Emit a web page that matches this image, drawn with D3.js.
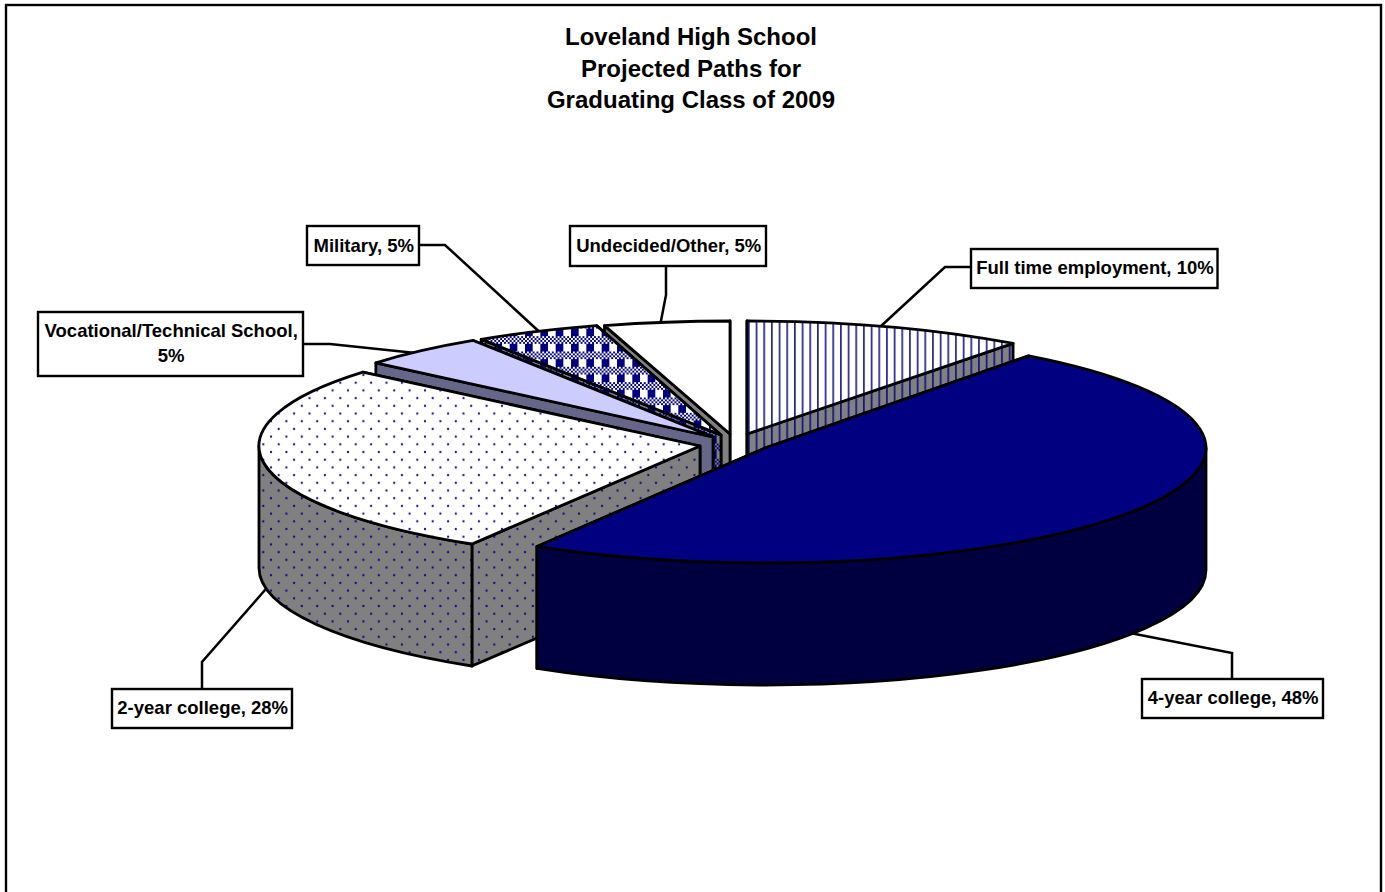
<!DOCTYPE html>
<html><head><meta charset="utf-8">
<style>html,body{margin:0;padding:0;background:#fff;overflow:hidden}svg{display:block}text{font-family:"Liberation Sans",Arial,sans-serif;font-weight:bold;fill:#000}</style>
<script src="https://cdn.jsdelivr.net/npm/d3@7"></script>
</head><body><svg id="c" width="1385" height="892"></svg>
<script>
// ---- data (clockwise from 12 o'clock)
const categories = ["Full time employment","4-year college","2-year college","Vocational/Technical School","Military","Undecided/Other"];
const shares = [10.2, 48.45, 27.5, 4.7, 4.6, 4.55];
const titleLines = ["Loveland High School","Projected Paths for","Graduating Class of 2009"];

// ---- layout: exploded slice centres and ellipse radii
const sliceCx = [747, 765, 700, 713, 721, 730];
const sliceCy = [434, 448, 446, 437, 435, 434];
const sliceRx = [445, 441, 441, 441, 441, 445];
const sliceRy = [113, 115, 114.5, 115, 114, 113];
const depth = 122;
const drawOrder = [5,4,3,0,2,1];
const frontEdgeIsEnd = [true,false,false,false,false,false]; // radial wall painted last
const boxes = [[971,249,1217.5,288],[1142,679,1323,718],[112,689,292,728],[38,312,303,376],[307,226,419,265],[570,226,766,266]];
const labelDy = [5.5,5.5,5.5,5.5,6,6];
const leaders = [
  [[971,267],[945,267],[880,327]],
  [[1232,679],[1232,653],[1125,632]],
  [[202,689],[202,662],[272,582]],
  [[303,344],[330,344],[425,354]],
  [[419,245],[445,245],[545,337]],
  [[666,266],[666,295],[660,326]]
];
const topFill = ["url(#stripeTop)","#000080","url(#dotTop)","#CCCCFF","url(#checkTop)","#ffffff"];
const wallFill = ["url(#stripeWall)","#000040","url(#dotWall)","#666688","url(#checkWall)","#808080"];

const svg = d3.select("#c");
const defs = svg.append("defs");
function stripe(id,bg){
  const p=defs.append("pattern").attr("id",id).attr("patternUnits","userSpaceOnUse").attr("width",7.67).attr("height",20).attr("patternTransform","translate(748,0)");
  p.append("rect").attr("width",7.67).attr("height",20).attr("fill",bg);
  p.append("rect").attr("x",0).attr("width",1.7).attr("height",20).attr("fill","#000080").attr("fill-opacity",0.85);
}
function dots(id,bg){
  const s=15.4;
  const p=defs.append("pattern").attr("id",id).attr("patternUnits","userSpaceOnUse").attr("width",s).attr("height",s).attr("patternTransform","translate(263.3,444.3)");
  p.append("rect").attr("width",s).attr("height",s).attr("fill",bg);
  [[0,0],[s,0],[0,s],[s,s],[s/2,s/2]].forEach(d=>p.append("circle").attr("cx",d[0]).attr("cy",d[1]).attr("r",1.15).attr("fill","#000080").attr("fill-opacity",0.9));
}
function check(id,bg){
  const s=15.33;
  const p=defs.append("pattern").attr("id",id).attr("patternUnits","userSpaceOnUse").attr("width",s).attr("height",s).attr("patternTransform","translate(571,328.5)");
  p.append("rect").attr("width",s).attr("height",s).attr("fill",bg);
  p.append("rect").attr("width",s/2).attr("height",s/2).attr("fill","#000080");
  d3.range(4).forEach(r=>d3.range(8).forEach(c=>{
    if((r+c)%2===0) p.append("rect").attr("x",c*s/8).attr("y",s/2+r*s/8).attr("width",s/8).attr("height",s/8).attr("fill","#000080");
  }));
}
stripe("stripeTop","#fff");stripe("stripeWall","#808080");
dots("dotTop","#fff");dots("dotWall","#808080");
check("checkTop","#fff");check("checkWall","#808080");

// frame
svg.append("rect").attr("x",6).attr("y",5).attr("width",1375).attr("height",900).attr("fill","#fff").attr("stroke","#000").attr("stroke-width",2.4);

// title
svg.append("g").selectAll("text").data(titleLines).join("text")
  .attr("x",691).attr("y",(d,i)=>45+i*31.5).attr("text-anchor","middle").attr("font-size",24).text(d=>d);

// leaders sit under the pie
const line=d3.line();
svg.append("g").selectAll("path").data(leaders).join("path").attr("d",d=>line(d)).attr("fill","none").attr("stroke","#000").attr("stroke-width",2.5);

// pie
const arcs=d3.pie().sort(null).startAngle(0).endAngle(2*Math.PI)(shares);
const pt=(i,t,dy=0)=>[sliceCx[i]+sliceRx[i]*Math.sin(t), sliceCy[i]-sliceRy[i]*Math.cos(t)+dy];
function arcTo(i,t0,t1,dy,sweep){
  const p=pt(i,t1,dy),large=Math.abs(t1-t0)>Math.PI?1:0;
  return `A${sliceRx[i]},${sliceRy[i]} 0 ${large} ${sweep} ${p[0]},${p[1]}`;
}
const gp=svg.append("g").attr("stroke","#000").attr("stroke-width",2.8).attr("stroke-linejoin","round");
drawOrder.forEach(i=>{
  const a=arcs[i],t0=a.startAngle,t1=a.endAngle,c=[sliceCx[i],sliceCy[i]];
  // radial walls: the hidden one first, the one facing the viewer last
  (frontEdgeIsEnd[i]?[t0,t1]:[t1,t0]).forEach(t=>{
    const p=pt(i,t);
    gp.append("path").attr("fill",wallFill[i])
      .attr("d",`M${p}L${c}L${c[0]},${c[1]+depth}L${p[0]},${p[1]+depth}Z`);
  });
  // outer curved wall, front half only
  const w0=Math.max(t0,Math.PI/2),w1=Math.min(t1,3*Math.PI/2);
  if(w1>w0){
    gp.append("path").attr("fill",wallFill[i])
      .attr("d",`M${pt(i,w0)}${arcTo(i,w0,w1,0,1)}L${pt(i,w1,depth)}${arcTo(i,w1,w0,depth,0)}Z`);
  }
  // top face
  gp.append("path").attr("fill",topFill[i])
    .attr("d",`M${c}L${pt(i,t0)}${arcTo(i,t0,t1,0,1)}Z`);
});

// label boxes
const gl=svg.append("g");
boxes.forEach((b,i)=>{
  gl.append("rect").attr("x",b[0]).attr("y",b[1]).attr("width",b[2]-b[0]).attr("height",b[3]-b[1]).attr("fill","#fff").attr("stroke","#000").attr("stroke-width",2.4);
  const pct=Math.round(shares[i])+"%",mx=(b[0]+b[2])/2+0.7,my=(b[1]+b[3])/2;
  const lines=i===3?[categories[i]+",",pct]:[categories[i]+", "+pct];
  lines.forEach((l,k)=>gl.append("text").attr("x",mx).attr("y",my+labelDy[i]+(k-(lines.length-1)/2)*25).attr("text-anchor","middle").attr("font-size",18.5).text(l));
});
</script></body></html>
